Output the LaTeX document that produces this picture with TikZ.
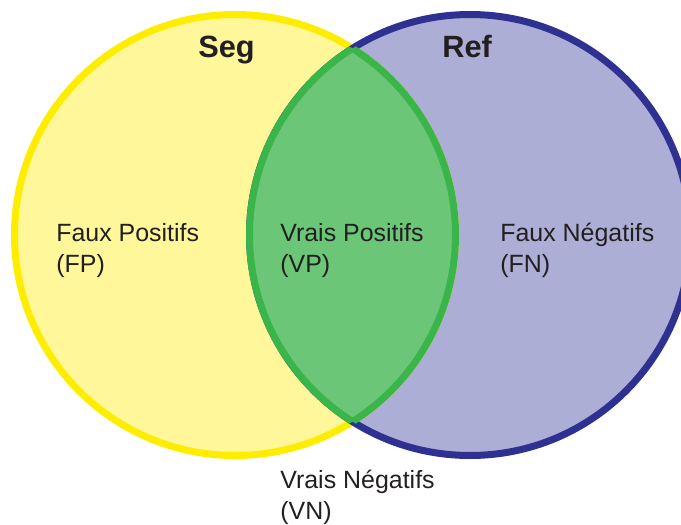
\documentclass[tikz,border=0pt]{standalone}
\usepackage{fontspec}
\setmainfont{Liberation Sans}
\usepackage{xcolor}
\usepackage{tikz}
\usetikzlibrary{positioning}
\definecolor{segline}{HTML}{FFED00}
\definecolor{segfill}{HTML}{FFF799}
\definecolor{refline}{HTML}{2E3192}
\definecolor{reffill}{HTML}{ACAED5}
\definecolor{vpline}{HTML}{39B54A}
\definecolor{vpfill}{HTML}{6CC678}
\definecolor{txt}{HTML}{231F20}

\begin{document}
\begin{tikzpicture}[x=0.02cm, y=-0.02cm,
		set/.style={line width=0.14cm},
		lbl/.style={align=left, anchor=base west, inner sep=0pt, text=txt, font=\fontsize{14.2}{17.6}\selectfont},
		ttl/.style={anchor=base west, inner sep=0pt, text=txt, font=\fontsize{17.5}{20}\selectfont\bfseries}]
			% Frame, centres and sets:
			\useasboundingbox (0, 0) rectangle (681, 525);
			\def\vennr{220.5}
			\coordinate (C1) at (235, 235);
			\coordinate (C2) at (470, 235);
			\fill[segfill] (C1) circle (\vennr);
			\fill[reffill] (C2) circle (\vennr);
			\draw[set, segline] (C1) circle (\vennr);
			\draw[set, refline] (C2) circle (\vennr);
			\begin{scope}
				\clip (C1) circle (\vennr);
				\fill[vpfill] (C2) circle (\vennr);
				\draw[set, vpline] (C2) circle (\vennr);
			\end{scope}
			\begin{scope}
				\clip (C2) circle (\vennr);
				\draw[set, vpline] (C1) circle (\vennr);
			\end{scope}
			% Labels (anchored on the last line):
			\node[ttl](N1) at (198, 57){Seg};
			\node[ttl](N2) at (442, 57){Ref};
			\node[lbl](N3) at (56, 272){Faux Positifs\\(FP)};
			\node[lbl](N4) at (280, 272){Vrais Positifs\\(VP)};
			\node[lbl](N5) at (500, 272){Faux Négatifs\\(FN)};
			\node[lbl](N6) at (280, 519){Vrais Négatifs\\(VN)};
		\end{tikzpicture}
\end{document}
